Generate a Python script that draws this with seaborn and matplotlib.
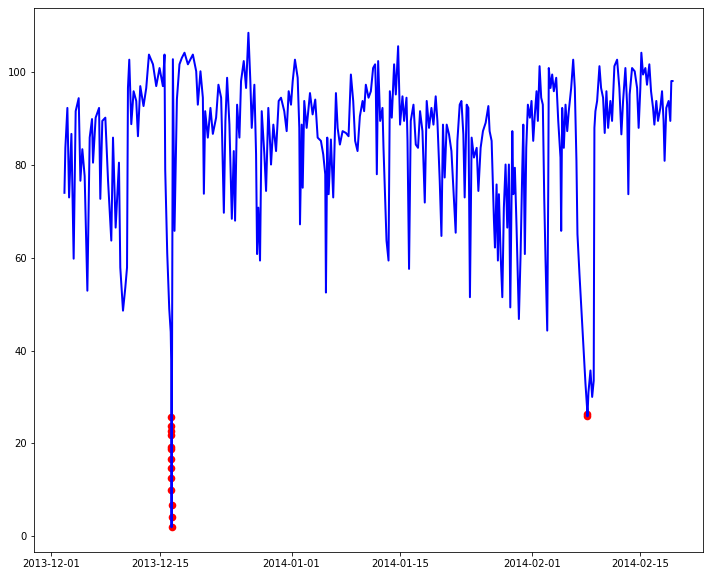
import numpy as np
import pandas as pd
import seaborn as sns
import matplotlib.pyplot as plt
import matplotlib.dates as mdates

# temperature readings (days since 2013-12-01, value)
days = [1.68, 1.80, 2.06, 2.28, 2.58, 2.87, 3.13, 3.52, 3.74, 3.99, 4.29, 4.64, 4.94, 5.24, 5.37,
        5.71, 6.15, 6.31, 6.57, 6.96, 7.31, 7.73, 7.95, 8.29, 8.72, 8.89, 9.24, 9.54, 9.76, 9.88,
        10.05, 10.31, 10.61, 10.95, 11.17, 11.47, 11.89, 12.24, 12.59, 13.11, 13.53, 13.96, 14.39,
        14.60, 14.69, 14.95, 15.21, 15.40, 15.46,
        15.68, 15.89, 16.20, 16.53, 16.84, 17.18, 17.62, 18.26, 18.69, 18.90, 19.24, 19.55, 19.68,
        19.85, 20.19, 20.53, 20.84, 21.26, 21.56, 21.91, 22.04, 22.26, 22.46, 22.68, 22.98, 23.29,
        23.54, 23.71, 23.97, 24.27, 24.48, 24.83, 25.13, 25.43, 25.68, 25.86, 26.20, 26.42, 26.55,
        26.71, 26.93, 27.15, 27.49, 27.71, 28.00, 28.26, 28.35, 28.65, 29.00, 29.34, 29.64, 30.06,
        30.37, 30.63, 30.93, 31.15, 31.44, 31.79, 32.00, 32.09, 32.31, 32.44, 32.64, 32.95, 33.38,
        33.72, 34.06, 34.37, 34.79, 35.09, 35.35, 35.44, 35.61, 35.79, 36.08, 36.38, 36.73, 36.95,
        37.24, 37.59, 38.02, 38.36, 38.66, 38.96, 39.21, 39.52, 39.82, 40.17, 40.37, 40.59, 40.94,
        41.24, 41.53, 41.79, 41.88, 42.01, 42.18, 42.44, 42.74, 42.87, 43.04, 43.26, 43.52, 43.69,
        43.94, 44.24, 44.46, 44.76, 45.01, 45.32, 45.53, 45.84, 45.97, 46.17, 46.39, 46.74, 47.04,
        47.33, 47.59, 47.90, 48.20, 48.45, 48.75, 49.06, 49.32, 49.61, 49.83, 50.13, 50.35, 50.55,
        50.77, 51.03, 51.33, 51.64, 51.89, 52.19, 52.41, 52.71, 52.93, 53.18, 53.35, 53.61, 53.83,
        54.03, 54.25, 54.55, 54.90, 55.12, 55.41, 55.71, 56.06, 56.41, 56.57, 56.83, 57.13, 57.26,
        57.47, 57.64, 57.77, 57.99, 58.21, 58.41, 58.63, 58.85, 59.06, 59.24, 59.50, 59.63, 59.83,
        60.05, 60.35, 60.57, 60.79, 60.92, 61.12, 61.30, 61.51, 61.77, 61.98, 62.20, 62.41, 62.63,
        62.80, 63.02, 63.23, 63.44, 63.62, 63.79, 64.01, 64.14, 64.21, 64.43, 64.65, 64.86, 65.17,
        65.43, 65.72, 65.81, 65.94, 66.15, 66.37, 66.59, 66.79, 67.10, 67.36, 67.57, 67.78, 67.91,
        68.17, 68.43, 68.72, 68.94, 69.16,
        69.33, 69.59, 69.81, 70.01, 70.10, 70.23, 70.45, 70.75, 70.96, 71.22, 71.43, 71.65, 71.87,
        72.16, 72.38, 72.68, 73.03, 73.32, 73.58, 73.80, 74.10, 74.32, 74.48, 74.65, 74.96, 75.30,
        75.61, 75.81, 76.03, 76.16, 76.38, 76.68, 76.89, 77.19, 77.41, 77.67, 77.84, 78.09, 78.31,
        78.61, 78.83, 79.03, 79.16, 79.38, 79.68, 79.90, 80.03, 80.19]

temps = [74, 83.7, 92.3, 73, 86.7, 59.8, 91.6, 94.4, 76.6, 83.4, 77.6, 52.9, 85.9, 89.9, 80.5,
         90.2, 92.3, 72.7, 89.5, 90.2, 76.6, 63.7, 85.9, 66.5, 80.5, 57.9, 48.6, 53.6, 57.9, 96.6,
         102.7, 88.8, 95.9, 93.8, 86.2, 97, 92.7, 96.6, 103.8, 101.7, 97, 100.9, 97,
         103.8, 79, 61, 49, 44, 38,
         102.8, 65.8, 94.2, 101.7, 103.1, 104.2, 101.7, 103.8, 100.2, 93, 100.2, 94.5, 73.8,
         91.6, 85.9, 92.3, 86.7, 90.2, 97.3, 94.5, 85.9, 69.7, 89.5, 98.8, 88.7, 68.4,
         83, 68, 93, 85.9, 98.1, 102.4, 96.6, 108.5, 98.1, 88, 97.3, 82.3, 60.8,
         70.8, 59.4, 91.6, 82.3, 74.4, 92.3, 83.7, 80.1, 88.7, 83, 93.8, 94.5, 91.6,
         87.3, 95.9, 93, 98.1, 102.7, 98.8, 88, 67.2, 88.7, 75.1, 93.8, 88, 95.5,
         90.9, 94.1, 85.9, 85.2, 82.3, 78, 52.5, 85.9, 73.7, 85.5, 73, 95.5, 88,
         84.4, 87.3, 86.9, 86.2, 99.5, 93.8, 85.2, 83, 90.5, 93.8, 91.6, 97.3, 94.5,
         95.9, 100.9, 101.7, 96.6, 78, 102.4, 89.5, 92.3, 83.7, 75.1, 63.7, 59.4, 95.9,
         90.2, 101.7, 95.2, 105.6, 88.7, 94.8, 89.5, 94.5, 85.2, 57.6, 89.5, 93, 84.4,
         83.7, 91.6, 87.3, 71.9, 93.8, 88, 92.3, 88.7, 94.8, 89.5, 76.6, 64.7, 88.7,
         77.3, 88.7, 86.6, 83, 75.1, 65.4, 85.2, 93, 93.8, 86.6, 73, 93, 92.3,
         51.5, 85.9, 81.6, 83.7, 74.4, 83.7, 87.3, 89.1, 92.7, 87.3, 85.2, 68, 62.2,
         75.8, 59.4, 73.7, 60.8, 51.5, 70.8, 80.1, 66.5, 80.1, 49.3, 87.3, 73.7, 79.4,
         66.5, 46.8, 60.8, 79.4, 88.7, 60.8, 83.7, 93, 90.2, 93.8, 85.2, 90.9, 95.9,
         89.5, 101.3, 94.5, 93, 73, 59.4, 44.3, 75.1, 100.9, 96.6, 99.5, 95.9, 98.8,
         89.5, 81.6, 65.8, 92.3, 83.7, 93, 87.3, 91.6, 96.6, 102.7, 96.6, 80.9, 65.1,
         56.5, 48.6, 40, 33, 27.5,
         31, 35.7, 30, 33.5, 88, 91.6, 93.8, 101.3, 96.6, 94.5, 86.9, 95.9, 88,
         93.8, 89.5, 101.3, 102.7, 96.6, 86.6, 93.8, 100.9, 93, 73.7, 95.2, 100.9, 100.2,
         96.6, 88, 96.6, 104.2, 99.5, 100.9, 97.3, 101.7, 95.9, 92.3, 88.7, 93.8, 89.5,
         92.3, 95.9, 89.5, 80.9, 92.3, 93.8, 89.5, 98.1, 98.1]

# flagged anomalies
anomaly_times = ['2013-12-16 11:15', '2013-12-16 11:20', '2013-12-16 11:25', '2013-12-16 11:30',
                 '2013-12-16 11:35', '2013-12-16 11:40', '2013-12-16 11:45', '2013-12-16 11:50',
                 '2013-12-16 11:55', '2013-12-16 12:00', '2013-12-16 12:05', '2013-12-16 12:10',
                 '2013-12-16 12:15', '2014-02-08 04:50', '2014-02-08 04:55']
anomaly_values = [25.6, 23.7, 22.6, 21.7, 19.1, 18.7, 16.6, 14.6, 12.5, 9.9, 6.7, 4.1, 1.9,
                  26.4, 25.8]

start = pd.Timestamp('2013-12-01')
df = pd.DataFrame({'timestamp': start + pd.to_timedelta(days, unit='D'), 'value': temps})
anom = pd.DataFrame({'timestamp': pd.to_datetime(anomaly_times), 'value': anomaly_values})
line_df = pd.concat([df, anom]).sort_values('timestamp').reset_index(drop=True)

fig, ax = plt.subplots(figsize=(709 / 72, 575 / 72), dpi=72)
fig.subplots_adjust(left=0.048, right=0.9915, top=0.986, bottom=0.04)

sns.scatterplot(data=anom, x='timestamp', y='value', color='red', s=58,
                edgecolor='red', linewidth=0, ax=ax, zorder=1)
sns.lineplot(data=line_df, x='timestamp', y='value', color='blue', linewidth=2,
             estimator=None, sort=False, ax=ax, zorder=2)

ax.xaxis.set_major_locator(mdates.DayLocator(bymonthday=[1, 15]))
ax.xaxis.set_major_formatter(mdates.DateFormatter('%Y-%m-%d'))
ax.set_xlabel('')
ax.set_ylabel('')

fig.savefig('out.png', dpi=72)
